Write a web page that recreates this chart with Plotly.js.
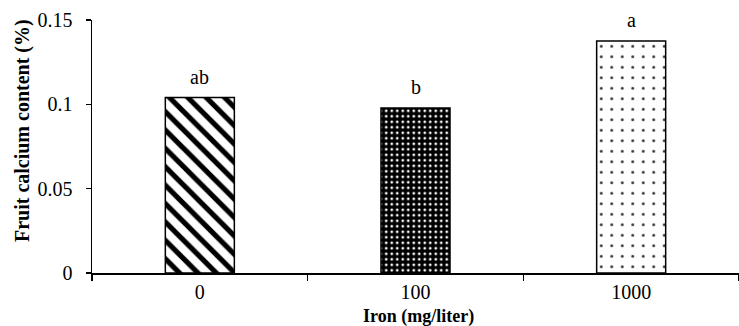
<!DOCTYPE html>
<html>
<head>
<meta charset="utf-8">
<script src="https://cdn.plot.ly/plotly-3.0.1.min.js"></script>
<style>html,body{margin:0;padding:0;background:#fff;}#chart{width:739px;height:326px;}</style>
</head>
<body>
<div id="chart"></div>
<script>
const categories = ["0", "100", "1000"];
const calcium = [0.104, 0.0978, 0.1375];
const letters = ["ab", "b", "a"];
const tickVals = [0, 0.05, 0.1, 0.15];
const tickText = ["0", "0.05", "0.1", "0.15"];
const xTitle = "<b>Iron (mg/liter)</b>";
const yTitle = "<b>Fruit calcium content (%)</b>";

const FONT = "Liberation Serif";

const patterns = [
  {shape: "\\", fgcolor: "black", bgcolor: "white", size: 13, solidity: 0.4},
  {shape: ".", fgcolor: "white", bgcolor: "black", size: 5.5, solidity: 0.2},
  {shape: ".", fgcolor: "#333", bgcolor: "white", size: 10.5, solidity: 0.06}
];

const traces = categories.map((c, i) => ({
  type: "bar",
  x: [c],
  y: [calcium[i]],
  width: 0.32,
  marker: {
    color: patterns[i].bgcolor,
    line: {color: "black", width: 1.5},
    pattern: Object.assign({fillmode: "replace"}, patterns[i])
  },
  hoverinfo: "none"
}));

const annotations = categories.map((c, i) => ({
  x: i, y: calcium[i], text: letters[i], showarrow: false,
  xref: "x", yref: "y",
  yanchor: "bottom", yshift: 8,
  font: {family: FONT, size: 20, color: "black"}
}));
annotations.push({
  xref: "paper", yref: "paper", x: -0.1082, y: 0.565,
  xanchor: "center", yanchor: "middle", textangle: -90, showarrow: false,
  text: yTitle, font: {family: FONT, size: 20, color: "black"}
});
annotations.push({
  xref: "paper", yref: "paper", x: 0.505, y: -0.170,
  xanchor: "center", yanchor: "middle", showarrow: false,
  text: xTitle, font: {family: FONT, size: 18, color: "black"}
});

const layout = {
  width: 739, height: 326,
  margin: {l: 92, r: 0, t: 20, b: 53},
  paper_bgcolor: "white", plot_bgcolor: "white",
  showlegend: false,
  barmode: "overlay",
  font: {family: FONT, size: 20, color: "black"},
  xaxis: {
    type: "category",
    categoryarray: categories, categoryorder: "array",
    range: [-0.5, 2.5],
    showline: true, linecolor: "black", linewidth: 1.5,
    ticks: "outside", tickson: "boundaries", ticklen: 6, tickcolor: "black", tickwidth: 1.5,
    ticklabelstandoff: 0,
    showgrid: false, zeroline: false,
    tickfont: {family: FONT, size: 20, color: "black"}
  },
  yaxis: {
    range: [0, 0.15],
    tickvals: tickVals, ticktext: tickText,
    showline: true, linecolor: "black", linewidth: 1.5,
    ticks: "outside", ticklen: 5, tickcolor: "black", tickwidth: 1.5,
    ticklabelstandoff: 9,
    showgrid: false, zeroline: false,
    tickfont: {family: FONT, size: 20, color: "black"}
  },
  annotations: annotations
};

Plotly.newPlot("chart", traces, layout, {staticPlot: true, displayModeBar: false});
</script>
</body>
</html>
